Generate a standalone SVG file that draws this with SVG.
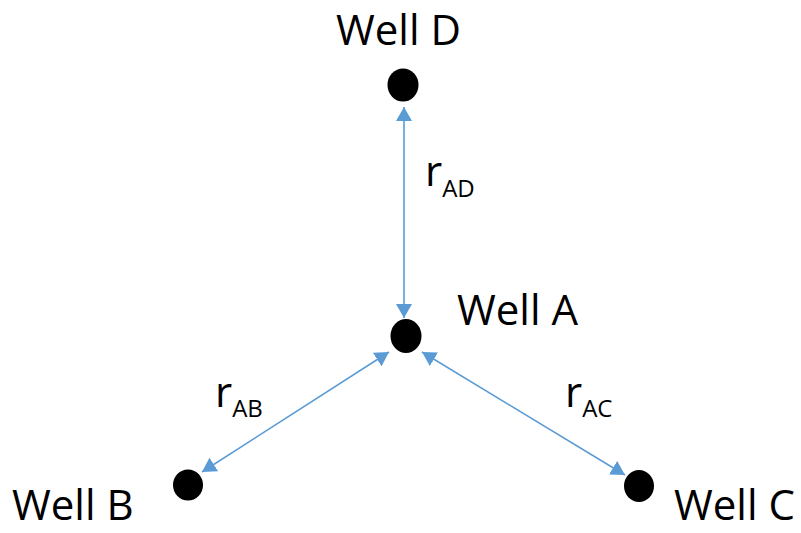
<svg xmlns="http://www.w3.org/2000/svg" width="801" height="533" viewBox="0 0 801 533">
  <style>
    .lbl { font-family: "Open Sans", "Liberation Sans", sans-serif; font-size: 42px; fill: #000; }
    .sub { font-size: 24px; }
    .well { fill: #000; }
    .link { stroke: #5B9BD5; stroke-width: 1.6; fill: none; marker-start: url(#tip); marker-end: url(#tip); }
  </style>
  <defs>
    <marker id="tip" viewBox="0 0 14 16" refX="14" refY="8" markerWidth="14" markerHeight="16" markerUnits="userSpaceOnUse" orient="auto-start-reverse">
      <path d="M0,0 L14,8 L0,16 Z" fill="#5B9BD5"/>
    </marker>
  </defs>

  <!-- connectors: distances between wells -->
  <g id="connectors">
    <line class="link" x1="404" y1="107" x2="404" y2="318"/>
    <line class="link" x1="389" y1="352" x2="202" y2="472"/>
    <line class="link" x1="422" y1="352" x2="625" y2="475"/>
  </g>

  <g id="well-d">
    <ellipse class="well" cx="403" cy="85" rx="15.5" ry="16.5"/>
    <text class="lbl" x="336" y="45">Well D</text>
  </g>
  <g id="well-a">
    <ellipse class="well" cx="406" cy="336" rx="15.5" ry="17"/>
    <text class="lbl" x="457" y="325">Well A</text>
  </g>
  <g id="well-b">
    <ellipse class="well" cx="188" cy="485" rx="15" ry="15.5"/>
    <text class="lbl" x="12" y="520">Well B</text>
  </g>
  <g id="well-c">
    <ellipse class="well" cx="639" cy="486" rx="15" ry="16"/>
    <text class="lbl" x="674" y="520">Well C</text>
  </g>

  <g id="label-ad">
    <text class="lbl" x="425" y="186">r<tspan class="sub" dy="11">AD</tspan></text>
  </g>
  <g id="label-ab">
    <text class="lbl" x="215" y="407">r<tspan class="sub" dy="10">AB</tspan></text>
  </g>
  <g id="label-ac">
    <text class="lbl" x="565" y="407">r<tspan class="sub" dy="10">AC</tspan></text>
  </g>
</svg>
